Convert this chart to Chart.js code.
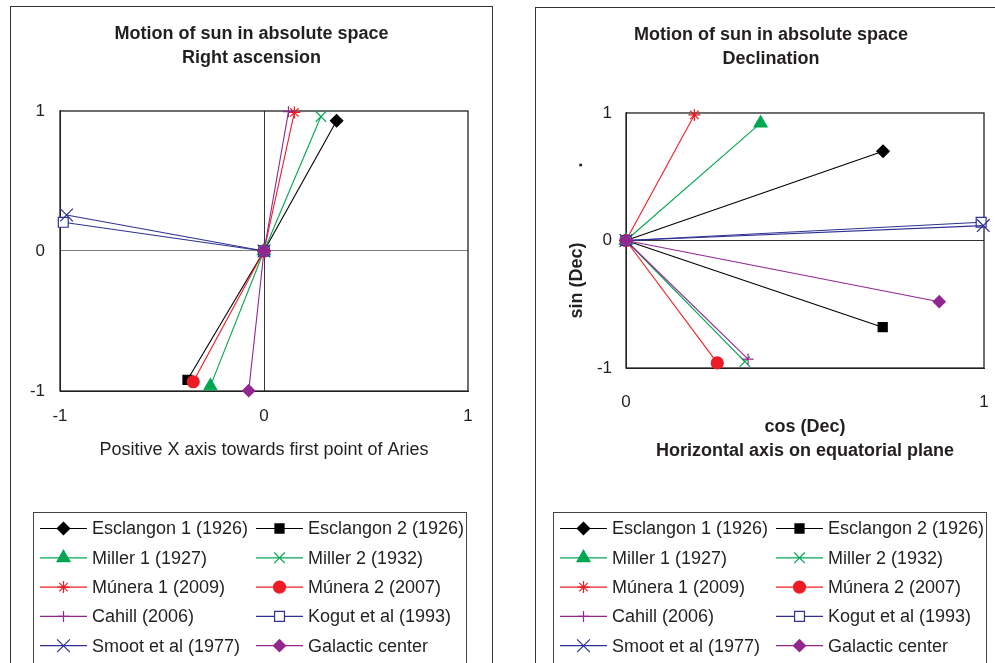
<!DOCTYPE html>
<html lang="en">

<head>
    <meta charset="UTF-8">
    <title>Motion of sun in absolute space</title>
    <style>
        body {
            margin: 0;
            background: #fff;
            font-family: "Liberation Sans", Arial, sans-serif;
        }

        .panel {
            position: absolute;
            border: 1px solid #333;
            overflow: hidden;
            background: #fff;
        }

        #leftPanel { left: 10px; top: 6px; width: 481px; height: 670px; }
        #rightPanel { left: 535px; top: 7px; width: 470px; height: 670px; }
        canvas { display: block; }
    </style>
</head>

<body>

    <div class="panel" id="leftPanel"><canvas id="raChart" width="481" height="660"></canvas></div>
    <div class="panel" id="rightPanel"><canvas id="decChart" width="470" height="660"></canvas></div>

    <script src="https://cdn.jsdelivr.net/npm/chart.js"></script>

    <script>
        // series, in legend order
        const seriesNames = ['Esclangon 1 (1926)', 'Esclangon 2 (1926)', 'Miller 1 (1927)', 'Miller 2 (1932)',
            'Múnera 1 (2009)', 'Múnera 2 (2007)', 'Cahill (2006)', 'Kogut et al (1993)',
            'Smoot et al (1977)', 'Galactic center'];

        // right ascension: end point of each vector (start is the origin)
        const raX = [0.356, -0.375, -0.263, 0.279, 0.149, -0.347, 0.12, -0.984, -0.968, -0.075];
        const raY = [0.93, -0.92, -0.965, 0.96, 0.99, -0.934, 0.995, 0.205, 0.257, -0.998];

        // declination: cos(Dec), sin(Dec)
        const decX = [0.718, 0.717, 0.376, 0.332, 0.191, 0.255, 0.341, 0.992, 0.998, 0.875];
        const decY = [0.70, -0.68, 0.92, -0.95, 0.985, -0.96, -0.93, 0.143, 0.117, -0.48];

        const raTicks = [-1, 0, 1];
        const decXTicks = [0, 1];

        // styles
        const BLACK = '#000000', GREEN = '#00a651', RED = '#ed1c24', PURPLE = '#92278f', BLUE = '#2e3192';
        const lineColors = [BLACK, BLACK, GREEN, GREEN, RED, RED, PURPLE, BLUE, BLUE, PURPLE];
        const fillColors = [BLACK, BLACK, GREEN, GREEN, RED, RED, PURPLE, '#ffffff', BLUE, PURPLE];
        const markers = ['rectRot', 'rect', 'triangle', 'crossRot', 'star', 'circle', 'cross', 'rect', 'crossRot', 'rectRot'];
        const markerSizes = [6.2, 6.4, 7.5, 7.5, 6, 6, 5.5, 7, 9, 6];

        // draws the frame round the plot area
        const plotFrame = {
            id: 'plotFrame',
            beforeDatasetsDraw(chart) {
                const { ctx, chartArea } = chart;
                ctx.save();
                ctx.strokeStyle = '#222';
                ctx.lineWidth = 1.3;
                ctx.strokeRect(chartArea.left, chartArea.top, chartArea.right - chartArea.left, chartArea.bottom - chartArea.top);
                ctx.restore();
            }
        };

        // Excel style legend box: line with marker, two columns
        const legendBox = {
            id: 'legendBox',
            afterDraw(chart, args, opts) {
                const ctx = chart.ctx;
                ctx.save();
                ctx.strokeStyle = '#444';
                ctx.lineWidth = 1;
                ctx.strokeRect(opts.left + 0.5, opts.top + 0.5, opts.width, opts.height);
                ctx.font = '18px "Liberation Sans", Arial, sans-serif';
                ctx.textBaseline = 'middle';
                chart.data.datasets.forEach((ds, i) => {
                    const x0 = opts.left + 7 + (i % 2) * 216;
                    const y = opts.top + 16.5 + Math.floor(i / 2) * 29.3;
                    ctx.strokeStyle = ds.borderColor;
                    ctx.fillStyle = ds.pointBackgroundColor;
                    ctx.lineWidth = 1.2;
                    ctx.beginPath();
                    ctx.moveTo(x0, y);
                    ctx.lineTo(x0 + 47, y);
                    ctx.stroke();
                    Chart.helpers.drawPoint(ctx, { pointStyle: ds.pointStyle, radius: ds.pointRadius, borderWidth: 1.2 }, x0 + 23.5, y);
                    ctx.fillStyle = '#231f20';
                    ctx.fillText(ds.label, x0 + 52, y + 1);
                });
                ctx.restore();
            }
        };

        function buildDatasets(xs, ys) {
            return seriesNames.map((name, i) => ({
                label: name,
                data: [{ x: 0, y: 0 }, { x: xs[i], y: ys[i] }],
                showLine: true,
                borderColor: lineColors[i],
                backgroundColor: fillColors[i],
                borderWidth: 1.1,
                pointStyle: markers[i],
                pointRadius: markerSizes[i],
                pointBorderWidth: 1.2,
                pointBorderColor: lineColors[i],
                pointBackgroundColor: fillColors[i],
                clip: false,
                order: seriesNames.length - i
            }));
        }

        // empty axis on the right, only keeps space so the titles stay centred on the panel
        function spacerAxis(w) {
            return {
                position: 'right', display: true,
                ticks: { display: false }, grid: { display: false }, border: { display: false },
                afterFit: s => { s.width = w; }
            };
        }

        const FAMILY = '"Liberation Sans", Arial, sans-serif';
        const tickFont = { family: FAMILY, size: 17 };
        const titleFont = { family: FAMILY, size: 18, weight: 'bold', lineHeight: 1.333 };

        // Right ascension chart
        new Chart(document.getElementById('raChart'), {
            type: 'scatter',
            data: { datasets: buildDatasets(raX, raY) },
            options: {
                responsive: false,
                animation: false,
                events: [],
                layout: { padding: { left: 0, right: 0, top: 0, bottom: 201 } },
                scales: {
                    x: {
                        min: raTicks[0], max: raTicks[raTicks.length - 1],
                        afterBuildTicks: s => { s.ticks = raTicks.map(v => ({ value: v })); },
                        afterFit: s => { s.height = 75; },
                        ticks: { font: tickFont, color: '#231f20', padding: 15, maxRotation: 0, autoSkip: false },
                        grid: { drawTicks: false, color: c => c.tick && c.tick.value === 0 ? '#333' : 'transparent' },
                        border: { display: true, color: '#222' },
                        title: {
                            display: true, text: 'Positive X axis towards first point of Aries', color: '#231f20',
                            font: { family: FAMILY, size: 18 }, padding: { top: 0, bottom: 5 }
                        }
                    },
                    y: {
                        min: raTicks[0], max: raTicks[raTicks.length - 1],
                        afterBuildTicks: s => { s.ticks = raTicks.map(v => ({ value: v })); },
                        afterFit: s => { s.width = 49; },
                        ticks: { font: tickFont, color: '#231f20', padding: 15, autoSkip: false },
                        grid: { drawTicks: false, color: c => c.tick && c.tick.value === 0 ? '#808080' : 'transparent' },
                        border: { display: true, color: '#222' }
                    },
                    yRight: spacerAxis(24)
                },
                plugins: {
                    legend: { display: false },
                    tooltip: { enabled: false },
                    title: {
                        display: true, text: ['Motion of sun in absolute space', 'Right ascension'],
                        color: '#231f20', font: titleFont, padding: { top: 15, bottom: 41 }
                    },
                    legendBox: { left: 22, top: 505, width: 433, height: 152 }
                }
            },
            plugins: [plotFrame, legendBox]
        });

        // Declination chart
        new Chart(document.getElementById('decChart'), {
            type: 'scatter',
            data: { datasets: buildDatasets(decX, decY) },
            options: {
                responsive: false,
                animation: false,
                events: [],
                layout: { padding: { left: 0, right: 0, top: 0, bottom: 200 } },
                scales: {
                    x: {
                        min: decXTicks[0], max: decXTicks[decXTicks.length - 1],
                        afterBuildTicks: s => { s.ticks = decXTicks.map(v => ({ value: v })); },
                        afterFit: s => { s.height = 100; },
                        ticks: { font: tickFont, color: '#231f20', padding: 16, maxRotation: 0, autoSkip: false },
                        grid: { display: false },
                        border: { display: true, color: '#222' },
                        title: {
                            display: true, text: ['cos (Dec)', 'Horizontal axis on equatorial plane'], color: '#231f20',
                            font: titleFont, padding: { top: 0, bottom: 5 }
                        }
                    },
                    y: {
                        min: raTicks[0], max: raTicks[raTicks.length - 1],
                        afterBuildTicks: s => { s.ticks = raTicks.map(v => ({ value: v })); },
                        afterFit: s => { s.width = 90; },
                        ticks: { font: tickFont, color: '#231f20', padding: 14, autoSkip: false },
                        grid: { drawTicks: false, color: c => c.tick && c.tick.value === 0 ? '#333' : 'transparent' },
                        border: { display: true, color: '#222' },
                        title: {
                            display: true, text: 'sin (Dec)               .', color: '#231f20',
                            font: { family: FAMILY, size: 18, weight: 'bold' },
                            padding: { top: 30, bottom: 0 }
                        }
                    },
                    yRight: spacerAxis(22)
                },
                plugins: {
                    legend: { display: false },
                    tooltip: { enabled: false },
                    title: {
                        display: true, text: ['Motion of sun in absolute space', 'Declination'],
                        color: '#231f20', font: titleFont, padding: { top: 15, bottom: 42 }
                    },
                    legendBox: { left: 17, top: 504, width: 433, height: 152 }
                }
            },
            plugins: [plotFrame, legendBox]
        });
    </script>

</body>

</html>
